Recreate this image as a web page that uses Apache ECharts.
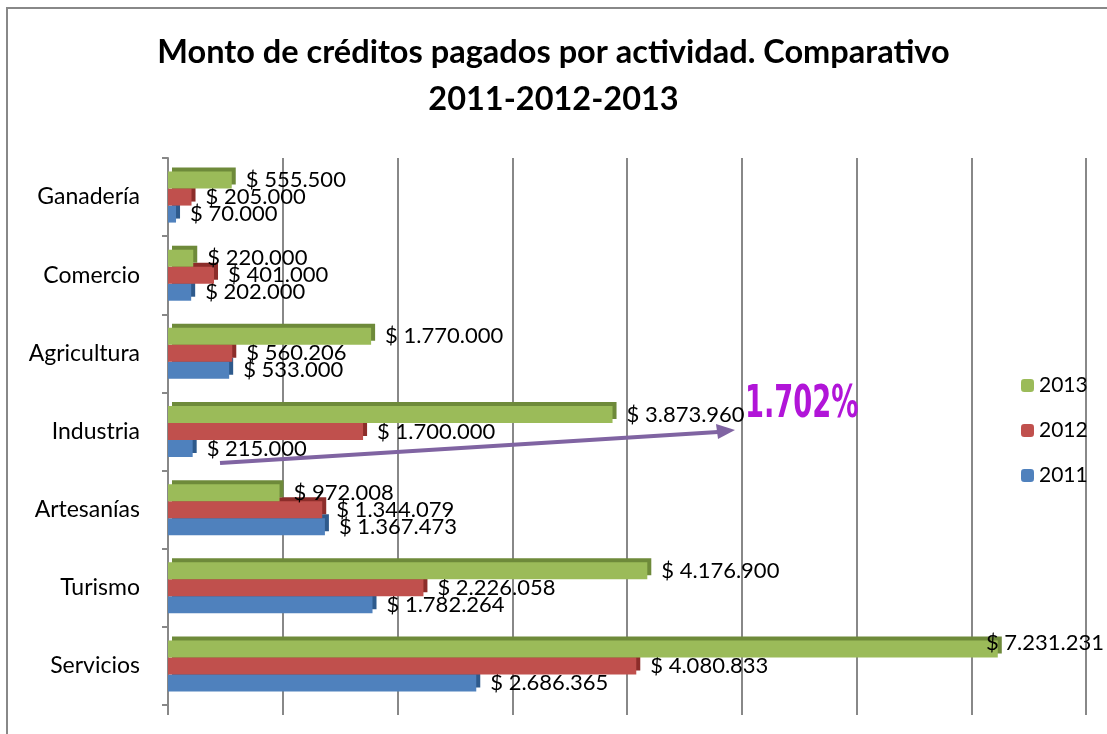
<!DOCTYPE html>
<html>
<head>
<meta charset="utf-8">
<script src="https://cdn.jsdelivr.net/npm/echarts@6/dist/echarts.min.js"></script>
<style>
  html, body { margin: 0; padding: 0; background: #fff; }
  #main { width: 1107px; height: 734px; }
</style>
</head>
<body>
<div id="main"></div>
<script>
// categorias (de abajo hacia arriba)
const categorias = ['Servicios', 'Turismo', 'Artesanías', 'Industria', 'Agricultura', 'Comercio', 'Ganadería']
const anios = ['2011', '2012', '2013']
const montos2011 = [2686365, 1782264, 1367473, 215000, 533000, 202000, 70000]
const montos2012 = [4080833, 2226058, 1344079, 1700000, 560206, 401000, 205000]
const montos2013 = [7231231, 4176900, 972008, 3873960, 1770000, 220000, 555500]
const colores = ['#4F81BD', '#C0504D', '#9BBB59']
const sombras = ['#2E5A8C', '#8C2D2A', '#6E8A3A']

// formato $ 1.234.567
const fmt = (v) => '$ ' + String(v).replace(/\B(?=(\d{3})+(?!\d))/g, '.')

const chart = echarts.init(document.querySelector('#main'))

const serie = (name, data, i) => ({
  name: name,
  type: 'bar',
  data: data,
  barWidth: 17,
  barGap: '0%',
  z: 2 + i,
  itemStyle: {
    color: colores[i],
    shadowColor: sombras[i],
    shadowOffsetX: 4,
    shadowOffsetY: -4,
    shadowBlur: 0
  },
  label: {
    show: true,
    position: 'right',
    distance: 14,
    formatter: (p) => fmt(p.value),
    fontFamily: 'Lato',
    fontSize: 22,
    color: '#000'
  },
  // si la etiqueta se sale por la derecha, la meto dentro
  labelLayout: (p) => {
    const r = p.labelRect
    if (r.x + r.width > 1104) {
      return { x: 1104 - r.width, y: r.y - 6, align: 'left', verticalAlign: 'top' }
    }
    return {}
  }
})

const option = {
  backgroundColor: '#fff',
  animation: false,
  title: {
    text: 'Monto de créditos pagados por actividad. Comparativo\n2011-2012-2013',
    left: 'center',
    top: 24,
    textStyle: {
      fontFamily: 'Lato',
      fontWeight: 'bold',
      fontSize: 32.5,
      lineHeight: 47,
      color: '#000'
    }
  },
  legend: {
    data: ['2013', '2012', '2011'],
    orient: 'vertical',
    left: 1016,
    top: 370,
    itemWidth: 13,
    itemHeight: 13,
    itemGap: 24,
    textStyle: { fontFamily: 'Lato', fontSize: 21, color: '#000' }
  },
  grid: { left: 168, right: 21, top: 158, bottom: 29 },
  xAxis: {
    type: 'value',
    min: 0,
    max: 8000000,
    interval: 1000000,
    axisLabel: { show: false },
    axisLine: { show: false },
    axisTick: { show: true, length: 10, lineStyle: { color: '#888', width: 2 } },
    splitLine: { show: true, lineStyle: { color: '#888', width: 2 } }
  },
  yAxis: {
    type: 'category',
    data: categorias,
    offset: 8,
    axisLine: { show: true, lineStyle: { color: '#888', width: 2 } },
    axisTick: { show: true, length: 6, lineStyle: { color: '#888', width: 2 } },
    axisLabel: { margin: 20, fontFamily: 'Lato', fontSize: 23, color: '#000' }
  },
  // orden: el primero queda arriba en cada grupo
  series: [
    serie(anios[2], montos2013, 2),
    serie(anios[1], montos2012, 1),
    serie(anios[0], montos2011, 0)
  ],
  graphic: [
    {
      type: 'rect',
      shape: { x: 7, y: 8, width: 1200, height: 800 },
      style: { fill: 'none', stroke: '#888', lineWidth: 2 },
      silent: true
    },
    {
      type: 'line',
      shape: { x1: 220, y1: 463, x2: 718, y2: 432 },
      style: { stroke: '#8064A2', lineWidth: 4 },
      z: 10
    },
    {
      type: 'polygon',
      shape: { points: [[735, 430], [716, 424], [718, 439]] },
      style: { fill: '#8064A2' },
      z: 10
    },
    {
      type: 'text',
      x: 745,
      y: 384,
      scaleX: 0.62,
      style: {
        text: '1.702%',
        fontFamily: 'DejaVu Sans',
        fontWeight: 'bold',
        fontSize: 44,
        fill: '#B115D8',
        shadowColor: '#A8B4F0',
        shadowOffsetX: 4,
        shadowOffsetY: 6,
        shadowBlur: 0
      },
      z: 11
    }
  ]
}

chart.setOption(option)
</script>
</body>
</html>
